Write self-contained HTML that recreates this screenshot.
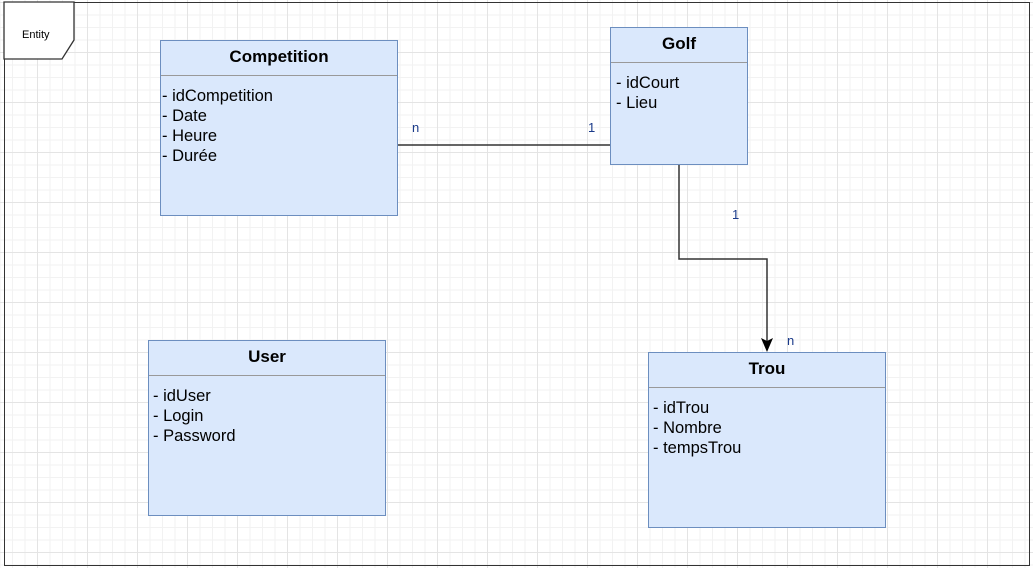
<!DOCTYPE html>
<html><head><style>
html,body{margin:0;padding:0;}
body{width:1033px;height:568px;position:relative;overflow:hidden;background:#fff;font-family:"Liberation Sans",Arial,sans-serif;
background-image:
linear-gradient(#e4e4e4 1px,transparent 1px),
linear-gradient(90deg,#e4e4e4 1px,transparent 1px),
linear-gradient(#f2f2f2 1px,transparent 1px),
linear-gradient(90deg,#f2f2f2 1px,transparent 1px);
background-size:50px 50px,50px 50px,12.5px 12.5px,12.5px 12.5px;
background-position:0 2px,37px 0,0 2px,37px 0;}
.frame{position:absolute;left:4px;top:2px;width:1026px;height:564px;border:1.5px solid #333;box-sizing:border-box;}
.box{position:absolute;background:#dae8fc;border:1.5px solid #6c8ebf;box-sizing:border-box;}
.box .h{font-weight:bold;font-size:17px;text-align:center;color:#000;border-bottom:1.5px solid #999;box-sizing:border-box;}
.box .b{padding:10px 0 0 1px;font-size:16.5px;line-height:20px;color:#000;}
.lbl{position:absolute;font-size:13px;color:#1a3a8a;}
</style></head><body>
<div class="frame"></div>
<svg width="1033" height="568" style="position:absolute;left:0;top:0">
<polygon points="4,2 74,2 74,40 62,59 4,59" fill="#fff" stroke="#333" stroke-width="1.3"/>
<text x="22" y="38" font-family="Liberation Sans,Arial,sans-serif" font-size="11" fill="#000">Entity</text>
<line x1="397" y1="145" x2="610" y2="145" stroke="#333" stroke-width="1.5"/>
<polyline points="679,164 679,259 767,259 767,344" fill="none" stroke="#333" stroke-width="1.5"/>
<polygon points="761,338 767,341 773,338 767,352" fill="#000"/>
</svg>
<div class="box" style="left:160px;top:40px;width:238px;height:176px"><div class="h" style="height:35px;line-height:32px">Competition</div><div class="b">- idCompetition<br>- Date<br>- Heure<br>- Durée</div></div>
<div class="box" style="left:610px;top:27px;width:138px;height:138px"><div class="h" style="height:35px;line-height:32px">Golf</div><div class="b" style="padding-left:5px">- idCourt<br>- Lieu</div></div>
<div class="box" style="left:148px;top:340px;width:238px;height:176px"><div class="h" style="height:35px;line-height:32px">User</div><div class="b" style="padding-left:4px">- idUser<br>- Login<br>- Password</div></div>
<div class="box" style="left:648px;top:352px;width:238px;height:176px"><div class="h" style="height:35px;line-height:32px">Trou</div><div class="b" style="padding-left:4px">- idTrou<br>- Nombre<br>- tempsTrou</div></div>
<div class="lbl" style="left:412px;top:120px">n</div>
<div class="lbl" style="left:588px;top:120px">1</div>
<div class="lbl" style="left:732px;top:207px">1</div>
<div class="lbl" style="left:787px;top:333px">n</div>
</body></html>
